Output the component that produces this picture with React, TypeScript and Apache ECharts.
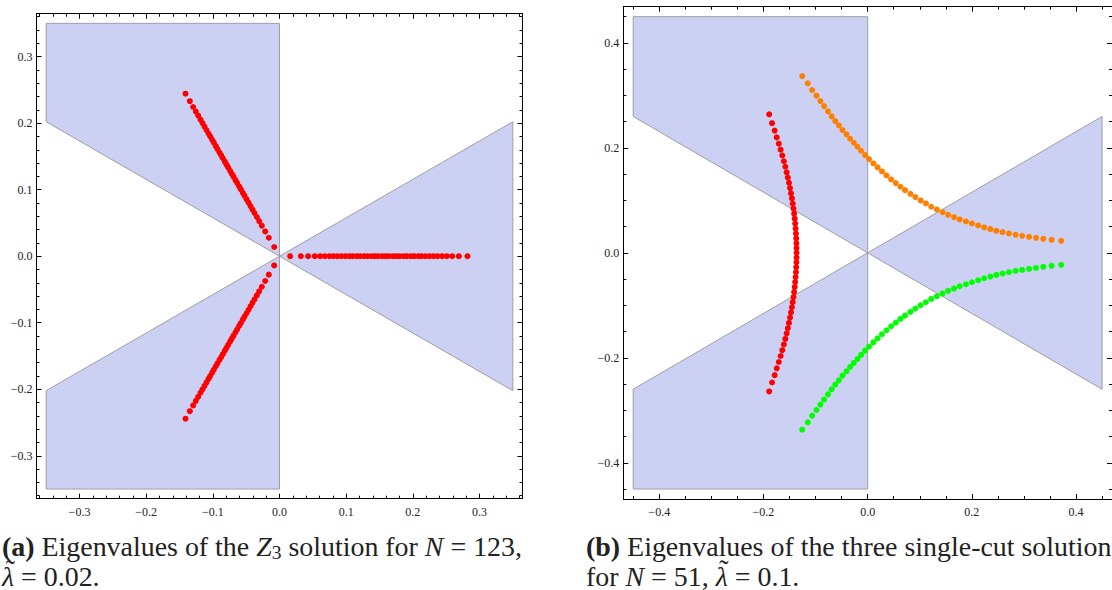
import React, { useEffect, useRef } from "react";
import * as echarts from "echarts";

// ---------- data ----------
// (a) Z3 solution, N = 123: radii of the eigenvalues along each of the three rays
const z3Angles = [0, 120, 240];
const z3Radii = [
  0.016, 0.032, 0.043, 0.053, 0.061, 0.068, 0.075, 0.081, 0.087, 0.093, 0.099,
  0.105, 0.11, 0.116, 0.121, 0.127, 0.132, 0.138, 0.143, 0.148, 0.154, 0.159,
  0.164, 0.17, 0.175, 0.18, 0.186, 0.191, 0.197, 0.202, 0.208, 0.213, 0.219,
  0.225, 0.231, 0.237, 0.244, 0.251, 0.259, 0.269, 0.282,
];

// (b) three single-cut solutions, N = 51
const redX = [
  -0.189, -0.1835, -0.1785, -0.1745, -0.1705, -0.167, -0.1638, -0.1608, -0.158, -0.1555,
  -0.1532, -0.151, -0.149, -0.1471, -0.1454, -0.1438, -0.1424, -0.1411, -0.14, -0.1391,
  -0.1383, -0.1376, -0.1371, -0.1367, -0.1365, -0.1364,
  -0.1365, -0.1367, -0.1371, -0.1376, -0.1383, -0.1391, -0.14, -0.1411, -0.1424, -0.1438,
  -0.1454, -0.1471, -0.149, -0.151, -0.1532, -0.1555, -0.158, -0.1608, -0.1638, -0.167,
  -0.1705, -0.1745, -0.1785, -0.1835, -0.189,
];
const redY = [
  0.264, 0.247, 0.233, 0.22, 0.208, 0.1965, 0.1855, 0.1745, 0.164, 0.1535, 0.1435, 0.1335,
  0.1235, 0.1135, 0.1037, 0.0939, 0.0843, 0.0747, 0.0652, 0.0557, 0.0462, 0.0368, 0.0274,
  0.018, 0.009, 0,
  -0.009, -0.018, -0.0274, -0.0368, -0.0462, -0.0557, -0.0652, -0.0747, -0.0843, -0.0939,
  -0.1037, -0.1135, -0.1235, -0.1335, -0.1435, -0.1535, -0.164, -0.1745, -0.1855, -0.1965,
  -0.208, -0.22, -0.233, -0.247, -0.264,
];
const orangeX = [
  -0.1256, -0.1149, -0.1066, -0.0983, -0.0907, -0.0837, -0.0761, -0.0691, -0.0622, -0.0552,
  -0.0482, -0.0406, -0.0336, -0.0266, -0.0196, -0.0126, -0.005, 0.0026, 0.0109, 0.0191,
  0.0274, 0.0362, 0.0451, 0.054, 0.0629, 0.0718, 0.082, 0.0915, 0.1017, 0.1118, 0.122,
  0.1328, 0.1436, 0.1543, 0.1658, 0.1766, 0.1886, 0.2001, 0.2121, 0.2236, 0.2356, 0.247,
  0.2591, 0.2712, 0.2839, 0.2966, 0.3099, 0.3232, 0.3372, 0.3531, 0.3715,
];
const orangeY = [
  0.3369, 0.3229, 0.3102, 0.2994, 0.2892, 0.2797, 0.2695, 0.26, 0.2511, 0.2428, 0.2339,
  0.2257, 0.2174, 0.2098, 0.2022, 0.1945, 0.1863, 0.1786, 0.1704, 0.1628, 0.1551, 0.1475,
  0.1399, 0.1329, 0.1259, 0.1195, 0.1125, 0.1062, 0.0998, 0.0941, 0.0878, 0.0827, 0.0776,
  0.0725, 0.0681, 0.0636, 0.0598, 0.056, 0.0522, 0.0484, 0.0452, 0.042, 0.0395, 0.0369,
  0.0344, 0.0325, 0.0306, 0.0287, 0.0267, 0.0248, 0.0229,
];
const greenX = [
  -0.1256, -0.1149, -0.1066, -0.0983, -0.0907, -0.0837, -0.0761, -0.0691, -0.0622, -0.0552,
  -0.0482, -0.0406, -0.0336, -0.0266, -0.0196, -0.0126, -0.005, 0.0026, 0.0109, 0.0191,
  0.0274, 0.0362, 0.0451, 0.054, 0.0629, 0.0718, 0.082, 0.0915, 0.1017, 0.1118, 0.122,
  0.1328, 0.1436, 0.1543, 0.1658, 0.1766, 0.1886, 0.2001, 0.2121, 0.2236, 0.2356, 0.247,
  0.2591, 0.2712, 0.2839, 0.2966, 0.3099, 0.3232, 0.3372, 0.3531, 0.3715,
];
const greenY = [
  -0.3369, -0.3229, -0.3102, -0.2994, -0.2892, -0.2797, -0.2695, -0.26, -0.2511, -0.2428,
  -0.2339, -0.2257, -0.2174, -0.2098, -0.2022, -0.1945, -0.1863, -0.1786, -0.1704, -0.1628,
  -0.1551, -0.1475, -0.1399, -0.1329, -0.1259, -0.1195, -0.1125, -0.1062, -0.0998, -0.0941,
  -0.0878, -0.0827, -0.0776, -0.0725, -0.0681, -0.0636, -0.0598, -0.056, -0.0522, -0.0484,
  -0.0452, -0.042, -0.0395, -0.0369, -0.0344, -0.0325, -0.0306, -0.0287, -0.0267, -0.0248,
  -0.0229,
];

// shaded regions (vertices in data units)
const shadeA = [
  [[-0.35, 0.35], [0, 0.35], [0, 0], [-0.35, 0.2021]],
  [[-0.35, -0.35], [0, -0.35], [0, 0], [-0.35, -0.2021]],
  [[0, 0], [0.35, 0.2021], [0.35, -0.2021]],
];
const shadeB = [
  [[-0.45, 0.45], [0, 0.45], [0, 0], [-0.45, 0.2598]],
  [[-0.45, -0.45], [0, -0.45], [0, 0], [-0.45, -0.2598]],
  [[0, 0], [0.45, 0.2598], [0.45, -0.2598]],
];

const extentA = 0.3645;
const extentB = 0.469;

// caption segments: b = bold, i = italic, sub = subscript, tilde = tilde accent
type Seg = { t: string; b?: boolean; i?: boolean; sub?: boolean; tilde?: boolean };
const captionA1: Seg[] = [
  { t: "(a)", b: true },
  { t: " Eigenvalues of the " },
  { t: "Z", i: true },
  { t: "3", sub: true },
  { t: " solution for " },
  { t: "N", i: true },
  { t: " = 123," },
];
const captionA2: Seg[] = [{ t: "λ", i: true, tilde: true }, { t: " = 0.02." }];
const captionB1: Seg[] = [
  { t: "(b)", b: true },
  { t: " Eigenvalues of the three single-cut solutions" },
];
const captionB2: Seg[] = [
  { t: "for " },
  { t: "N", i: true },
  { t: " = 51, " },
  { t: "λ", i: true, tilde: true },
  { t: " = 0.1." },
];

// ---------- styling ----------
const SHADE = "#CCD1F4";
const EDGE = "#9d9da6";
const SERIF = "'Liberation Serif', 'Times New Roman', serif";
const TEXT = "#222";
const CAPTION_WIDTH = 520;

const fmt = (v: number) =>
  Math.abs(v) < 1e-9 ? "0.0" : (v < 0 ? "\u2212" : "") + Math.abs(v).toFixed(1);

function makeAxis(
  kind: "x" | "y",
  gridIndex: number,
  position: string,
  ext: number,
  minorSplit: number,
  labels: boolean
) {
  return {
    type: "value",
    gridIndex,
    position,
    min: -ext,
    max: ext,
    axisLine: { show: true, onZero: false, lineStyle: { color: "#000", width: 1 } },
    axisTick: { show: true, inside: true, length: 5, lineStyle: { color: "#000", width: 1 } },
    minorTick: { show: true, splitNumber: minorSplit, length: 3, lineStyle: { color: "#000", width: 1 } },
    splitLine: { show: false },
    minorSplitLine: { show: false },
    axisLabel: labels
      ? {
          show: true,
          formatter: fmt,
          fontFamily: "Liberation Serif",
          fontWeight: 400,
          fontStyle: "normal",
          fontSize: 12,
          color: TEXT,
          margin: kind === "x" ? 7 : 4,
          showMinLabel: false,
          showMaxLabel: false,
        }
      : { show: false },
  };
}

function shadeSeries(polys: number[][][], idx: number) {
  return {
    type: "custom",
    xAxisIndex: idx,
    yAxisIndex: idx,
    z: 1,
    silent: true,
    data: polys.map(() => [0, 0]),
    renderItem: (params: any, api: any) => {
      const poly = polys[params.dataIndex];
      return {
        type: "polygon",
        shape: { points: poly.map((p) => api.coord(p)) },
        style: { fill: SHADE, stroke: EDGE, lineWidth: 1 },
      };
    },
  };
}

function scatter(data: number[][], color: string, idx: number) {
  return {
    type: "scatter",
    xAxisIndex: idx,
    yAxisIndex: idx,
    z: 3,
    symbol: "circle",
    symbolSize: 6,
    itemStyle: { color, opacity: 1 },
    data,
  };
}

const zip = (xs: number[], ys: number[]) => xs.map((x, i) => [x, ys[i]]);

let measureCtx: CanvasRenderingContext2D | null = null;
function segFont(s: Seg, size: number) {
  const fs = s.sub ? size * 0.7 : size;
  return `${s.i ? "italic" : "normal"} ${s.b ? "bold" : "normal"} ${fs.toFixed(2)}px ${SERIF}`;
}
function measure(text: string, font: string) {
  if (!measureCtx) measureCtx = document.createElement("canvas").getContext("2d");
  measureCtx!.font = font;
  return measureCtx!.measureText(text).width;
}
function lineWidth(segs: Seg[], size: number) {
  return segs.reduce((acc, s) => acc + measure(s.t, segFont(s, size)), 0);
}

function layoutCaption(segs: Seg[], x0: number, yMid: number, size: number) {
  const out: any[] = [];
  let x = x0;
  segs.forEach((s) => {
    const fs = s.sub ? size * 0.7 : size;
    const font = segFont(s, size);
    const w = measure(s.t, font);
    out.push({
      type: "text",
      x,
      y: s.sub ? yMid + size * 0.22 : yMid,
      silent: true,
      style: {
        text: s.t,
        font,
        lineHeight: fs * 0.9,
        fill: TEXT,
        align: "left",
        verticalAlign: "middle",
      },
    });
    if (s.tilde) {
      out.push({
        type: "text",
        x: x + w * 0.5 + size * 0.08,
        y: yMid - size * 0.22,
        silent: true,
        style: {
          text: "\u02DC",
          font: `normal normal ${size.toFixed(2)}px ${SERIF}`,
          lineHeight: 6,
          fill: TEXT,
          align: "center",
          verticalAlign: "middle",
        },
      });
    }
    x += w;
  });
  return out;
}

export default function App() {
  const ref = useRef<HTMLDivElement>(null);

  useEffect(() => {
    if (!ref.current) return;
    const chart = echarts.init(ref.current, undefined, { renderer: "svg" });

    const z3Points: number[][] = [];
    z3Angles.forEach((deg) => {
      const a = (deg * Math.PI) / 180;
      z3Radii.forEach((r) => z3Points.push([r * Math.cos(a), r * Math.sin(a)]));
    });

    // choose caption size so that the first caption line spans the reference width
    const fit = (100 * CAPTION_WIDTH) / lineWidth(captionA1, 100);
    const capSize = Math.max(24, Math.min(29, fit));

    const graphic = [
      ...layoutCaption(captionA1, 2, 546, capSize),
      ...layoutCaption(captionA2, 2, 576, capSize),
      ...layoutCaption(captionB1, 586, 546, capSize),
      ...layoutCaption(captionB2, 586, 576, capSize),
    ];

    chart.setOption({
      animation: false,
      backgroundColor: "#fff",
      grid: [
        { left: 36.5, top: 13.7, width: 486, height: 485, containLabel: false },
        { left: 623.3, top: 6.7, width: 492, height: 492.3, containLabel: false },
      ],
      xAxis: [
        makeAxis("x", 0, "bottom", extentA, 5, true),
        makeAxis("x", 1, "bottom", extentB, 4, true),
        makeAxis("x", 0, "top", extentA, 5, false),
        makeAxis("x", 1, "top", extentB, 4, false),
      ],
      yAxis: [
        makeAxis("y", 0, "left", extentA, 5, true),
        makeAxis("y", 1, "left", extentB, 4, true),
        makeAxis("y", 0, "right", extentA, 5, false),
        makeAxis("y", 1, "right", extentB, 4, false),
      ],
      series: [
        shadeSeries(shadeA, 0),
        shadeSeries(shadeB, 1),
        scatter(z3Points, "#FF0000", 0),
        scatter(zip(redX, redY), "#FF0000", 1),
        scatter(zip(orangeX, orangeY), "#FF8000", 1),
        scatter(zip(greenX, greenY), "#00FF00", 1),
      ],
      graphic,
    });

    return () => chart.dispose();
  }, []);

  return (
    <div
      ref={ref}
      style={{ position: "absolute", left: 0, top: 0, width: 1112, height: 590, background: "#fff" }}
    />
  );
}
